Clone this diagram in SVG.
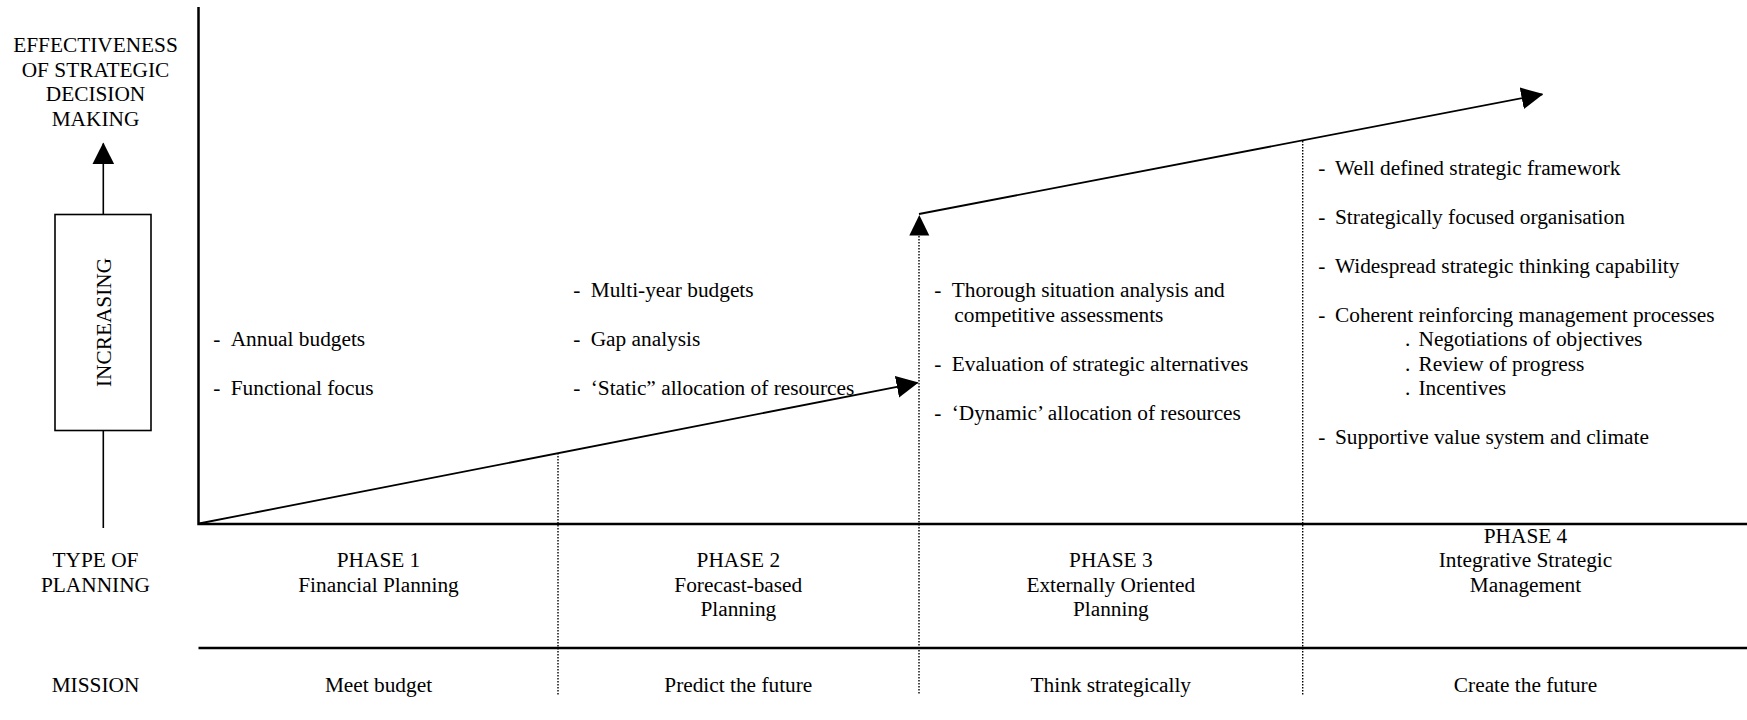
<svg xmlns="http://www.w3.org/2000/svg" width="1747" height="720" viewBox="0 0 1747 720">
  <style>
    text { font-family: "Liberation Serif", "Times New Roman", serif; font-size: 21.33px; fill: #000; }
    .c { text-anchor: middle; }
    .axis { stroke: #000; stroke-width: 2.5; fill: none; }
    .trend { stroke: #000; stroke-width: 1.8; fill: none; }
    .thin { stroke: #000; stroke-width: 1.6; fill: none; }
    .dot { stroke: #000; stroke-width: 1.4; stroke-dasharray: 1.5 1.5; fill: none; }
  </style>
  <defs>
    <marker id="head" markerUnits="userSpaceOnUse" markerWidth="22" markerHeight="22" viewBox="0 0 20 20" refX="19" refY="10" orient="auto">
      <path d="M0,0 L20,10 L0,20 Z" fill="#000"/>
    </marker>
  </defs>

  <!-- side legend: effectiveness scale -->
  <g id="legend-effectiveness">
    <text class="c" x="95.5" y="52">EFFECTIVENESS</text>
    <text class="c" x="95.5" y="76.5">OF STRATEGIC</text>
    <text class="c" x="95.5" y="101">DECISION</text>
    <text class="c" x="95.5" y="125.5">MAKING</text>
  </g>
  <g id="legend-increasing">
    <rect class="thin" x="55" y="214.5" width="96" height="216"/>
    <text class="c" transform="translate(103.5,322.5) rotate(-90)" y="7.5">INCREASING</text>
  </g>
  <g id="legend-rows">
    <text class="c" x="95.5" y="567">TYPE OF</text>
    <text class="c" x="95.5" y="591.5">PLANNING</text>
    <text class="c" x="95.5" y="692">MISSION</text>
  </g>

  <!-- axes, rules and connectors -->
  <g id="connectors">
    <line class="thin" x1="103.3" y1="214.5" x2="103.3" y2="143.5" marker-end="url(#head)"/>
    <line class="thin" x1="103.3" y1="430.5" x2="103.3" y2="528"/>
    <polyline class="axis" points="198.5,7 198.5,524 1747,524"/>
    <line class="axis" x1="198.5" y1="648" x2="1747" y2="648"/>
    <line class="dot" x1="558" y1="453" x2="558" y2="695"/>
    <line class="dot" x1="919" y1="236" x2="919" y2="695"/>
    <line class="dot" x1="1302.7" y1="141" x2="1302.7" y2="695"/>
    <line class="trend" x1="199" y1="523.5" x2="917.5" y2="382.8" marker-end="url(#head)"/>
    <path d="M909.3,235.5 L919.3,215 L929.3,235.5 Z" fill="#000"/>
    <line class="trend" x1="919" y1="214" x2="1542.3" y2="94.3" marker-end="url(#head)"/>
  </g>

  <!-- phase 1 -->
  <g id="phase-1">
    <text x="213.3" y="346">-</text><text x="230.7" y="346">Annual budgets</text>
    <text x="213.3" y="395">-</text><text x="230.7" y="395">Functional focus</text>
    <text class="c" x="378.5" y="567">PHASE 1</text>
    <text class="c" x="378.5" y="591.5">Financial Planning</text>
    <text class="c" x="378.5" y="692">Meet budget</text>
  </g>

  <!-- phase 2 -->
  <g id="phase-2">
    <text x="573.3" y="297">-</text><text x="590.7" y="297">Multi-year budgets</text>
    <text x="573.3" y="346">-</text><text x="590.7" y="346">Gap analysis</text>
    <text x="573.3" y="395">-</text><text x="590.7" y="395">‘Static” allocation of resources</text>
    <text class="c" x="738.3" y="567">PHASE 2</text>
    <text class="c" x="738.3" y="591.5">Forecast-based</text>
    <text class="c" x="738.3" y="616">Planning</text>
    <text class="c" x="738.3" y="692">Predict the future</text>
  </g>

  <!-- phase 3 -->
  <g id="phase-3">
    <text x="934.3" y="297">-</text><text x="951.7" y="297">Thorough situation analysis and</text>
    <text x="954.3" y="321.5">competitive assessments</text>
    <text x="934.3" y="370.5">-</text><text x="951.7" y="370.5">Evaluation of strategic alternatives</text>
    <text x="934.3" y="419.5">-</text><text x="951.7" y="419.5">‘Dynamic’ allocation of resources</text>
    <text class="c" x="1110.8" y="567">PHASE 3</text>
    <text class="c" x="1110.8" y="591.5">Externally Oriented</text>
    <text class="c" x="1110.8" y="616">Planning</text>
    <text class="c" x="1110.8" y="692">Think strategically</text>
  </g>

  <!-- phase 4 -->
  <g id="phase-4">
    <text x="1318.3" y="174.5">-</text><text x="1335" y="174.5">Well defined strategic framework</text>
    <text x="1318.3" y="223.5">-</text><text x="1335" y="223.5">Strategically focused organisation</text>
    <text x="1318.3" y="272.5">-</text><text x="1335" y="272.5">Widespread strategic thinking capability</text>
    <text x="1318.3" y="321.5">-</text><text x="1335" y="321.5">Coherent reinforcing management processes</text>
    <text x="1405" y="346">.</text><text x="1418.5" y="346">Negotiations of objectives</text>
    <text x="1405" y="370.5">.</text><text x="1418.5" y="370.5">Review of progress</text>
    <text x="1405" y="395">.</text><text x="1418.5" y="395">Incentives</text>
    <text x="1318.3" y="444">-</text><text x="1335" y="444">Supportive value system and climate</text>
    <text class="c" x="1525.5" y="542.5">PHASE 4</text>
    <text class="c" x="1525.5" y="567">Integrative Strategic</text>
    <text class="c" x="1525.5" y="591.5">Management</text>
    <text class="c" x="1525.5" y="692">Create the future</text>
  </g>
</svg>
